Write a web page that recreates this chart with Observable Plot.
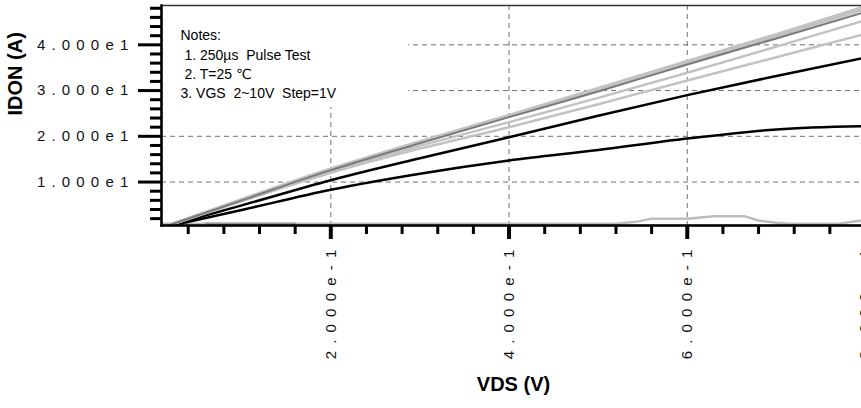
<!DOCTYPE html>
<html><head><meta charset="utf-8">
<script src="https://cdn.jsdelivr.net/npm/d3@7"></script>
<script src="https://cdn.jsdelivr.net/npm/@observablehq/plot@0.6"></script>
<style>
html,body{margin:0;padding:0;background:#fff;overflow:hidden;}
g[aria-label="y-axis tick label"] text{letter-spacing:6.2px;fill:#111;}
g[aria-label="x-axis tick label"] text{letter-spacing:7.2px;fill:#111;}
text[aria-label="notes"]{white-space:pre;letter-spacing:1px;}
text[aria-label="axis title"]{letter-spacing:0.5px;}
</style></head><body><div id="chart"></div><script>
// ---- data ----
const vds = [0.01, 0.1, 0.2, 0.3, 0.4, 0.5, 0.6, 0.7, 0.8];
const idVgs10 = [0, 6.2, 12.9, 18.9, 24.6, 30.5, 36.4, 42.3, 48.4];
const idVgs9  = [0, 6.1, 12.8, 18.7, 24.4, 30.1, 36.0, 41.9, 47.9];
const idVgs8  = [0, 6.0, 12.6, 18.5, 24.2, 29.8, 35.7, 41.4, 47.2];
const idVgs7  = [0, 5.9, 12.3, 17.9, 23.1, 28.4, 33.9, 39.6, 45.4];
const idVgs6  = [0, 5.8, 12.0, 17.3, 22.0, 27.0, 32.2, 37.3, 42.4];
const idVgs5  = [0, 4.9, 10.4, 15.2, 19.8, 24.5, 29.0, 33.2, 37.2];
const idVgs4  = [0, 3.9, 8.3, 11.8, 14.7, 17.0, 19.5, 21.5, 22.2];
const vdsLow  = [0.01, 0.2, 0.4, 0.52, 0.545, 0.56, 0.6, 0.63, 0.665, 0.68, 0.7, 0.715, 0.77, 0.785, 0.8];
const idVgs3  = [0.9, 0.9, 0.9, 0.9, 1.4, 2.0, 2.0, 2.5, 2.5, 1.6, 1.1, 0.9, 0.9, 1.3, 1.7];
const vdsVgs2 = [0.06, 0.16];
const idVgs2  = [0.9, 0.9];

const xDomain = [0.01, 0.8];
const yDomain = [0.5, 48.6];
const xMajor = [0.2, 0.4, 0.6, 0.8];
const xTickLabels = ["2.000e-1", "4.000e-1", "6.000e-1", "8.000e-1"];
const xMinor = [0.04, 0.08, 0.12, 0.16, 0.24, 0.28, 0.32, 0.36, 0.44, 0.48, 0.52, 0.56, 0.64, 0.68, 0.72, 0.76];
const yMajor = [10, 20, 30, 40];
const yTickLabels = ["1.000e1", "2.000e1", "3.000e1", "4.000e1"];
const yMinor = [2, 4, 6, 8, 12, 14, 16, 18, 22, 24, 26, 28, 32, 34, 36, 38, 42, 44, 46, 48];
const notesLines = ["Notes:", " 1. 250\u00b5s  Pulse Test", " 2. T=25 \u2103", "3. VGS  2~10V  Step=1V"];
const xTitle = "VDS (V)";
const yTitle = "IDON (A)";

// ---- series table ----
const series = [
  {vgs: 3, xs: vdsLow, ys: idVgs3, color: "#bdbdbd", w: 2.5},
  {vgs: 2, xs: vdsVgs2, ys: idVgs2, color: "#9a9a9a", w: 2.5},
  {vgs: 4, xs: vds, ys: idVgs4, color: "#000000", w: 2.5},
  {vgs: 5, xs: vds, ys: idVgs5, color: "#000000", w: 2.5},
  {vgs: 6, xs: vds, ys: idVgs6, color: "#c2c2c2", w: 2.5},
  {vgs: 7, xs: vds, ys: idVgs7, color: "#c2c2c2", w: 2.5},
  {vgs: 9, xs: vds, ys: idVgs9, color: "#c2c2c2", w: 3},
  {vgs: 10, xs: vds, ys: idVgs10, color: "#c2c2c2", w: 3},
  {vgs: 8, xs: vds, ys: idVgs8, color: "#7a7a7a", w: 2}
];
const lineMarks = series.map(s => Plot.line(s.xs.map((x, i) => ({x, y: s.ys[i]})), {
  x: "x", y: "y", stroke: s.color, strokeWidth: s.w, curve: s.vgs <= 3 ? "linear" : "monotone-x", clip: true
}));

function notesBox(index, scales, values, dimensions) {
  return d3.create("svg:rect")
    .attr("x", dimensions.marginLeft)
    .attr("y", dimensions.marginTop)
    .attr("width", 247)
    .attr("height", 102)
    .attr("fill", "white").node();
}

const tickFont = "Liberation Sans, DejaVu Sans, sans-serif";
const chart = Plot.plot({
  width: 885, height: 408,
  marginLeft: 161, marginRight: 20, marginTop: 5, marginBottom: 183,
  style: {maxWidth: "none", background: "white", overflow: "visible"},
  x: {domain: xDomain, label: null},
  y: {domain: yDomain, label: null},
  marks: [
    Plot.gridX({ticks: xMajor, stroke: "#707070", strokeOpacity: 1, strokeWidth: 1, strokeDasharray: "5,4"}),
    Plot.gridY({ticks: yMajor, stroke: "#707070", strokeOpacity: 1, strokeWidth: 1, strokeDasharray: "5,4"}),
    notesBox,
    ...lineMarks,
    Plot.frame({stroke: "#333", strokeWidth: 1.5}),
    Plot.frame({anchor: "left", stroke: "#000", strokeWidth: 2.5}),
    Plot.frame({anchor: "bottom", stroke: "#000", strokeWidth: 2.5}),
    Plot.axisY({ticks: yMinor, tickSize: 11, tickFormat: () => "", label: null, stroke: "#000", strokeWidth: 3}),
    Plot.axisY({ticks: yMajor, tickSize: 23, tickPadding: 4, tickFormat: (d) => yTickLabels[yMajor.indexOf(d)], label: null, stroke: "#000", strokeWidth: 3, fontSize: 15, fontFamily: tickFont}),
    Plot.axisX({ticks: xMinor, tickSize: 9, tickFormat: () => "", label: null, stroke: "#000", strokeWidth: 3}),
    Plot.axisX({ticks: xMajor, tickSize: 14, tickPadding: 3, tickRotate: -90, tickFormat: (d) => xTickLabels[xMajor.indexOf(d)], label: null, stroke: "#000", strokeWidth: 4, fontSize: 15, fontFamily: tickFont}),
    Plot.text([notesLines.join("\n")], {frameAnchor: "top-left", dx: 19, dy: 21, lineAnchor: "top", textAnchor: "start", lineHeight: 1.386, fill: "#000", ariaLabel: "notes", fontSize: 14, fontFamily: "Liberation Sans, DejaVu Sans, sans-serif"}),
    Plot.text([xTitle], {frameAnchor: "bottom", dy: 165, fill: "#000", ariaLabel: "axis title", fontSize: 20, fontWeight: "bold", fontFamily: "Liberation Sans Narrow, Liberation Sans, sans-serif"}),
    Plot.text([yTitle], {frameAnchor: "left", dx: -146, rotate: -90, fill: "#000", ariaLabel: "axis title", fontSize: 20, fontWeight: "bold", fontFamily: "Liberation Sans Narrow, Liberation Sans, sans-serif"})
  ]
});
document.getElementById("chart").appendChild(chart);
</script></body></html>
